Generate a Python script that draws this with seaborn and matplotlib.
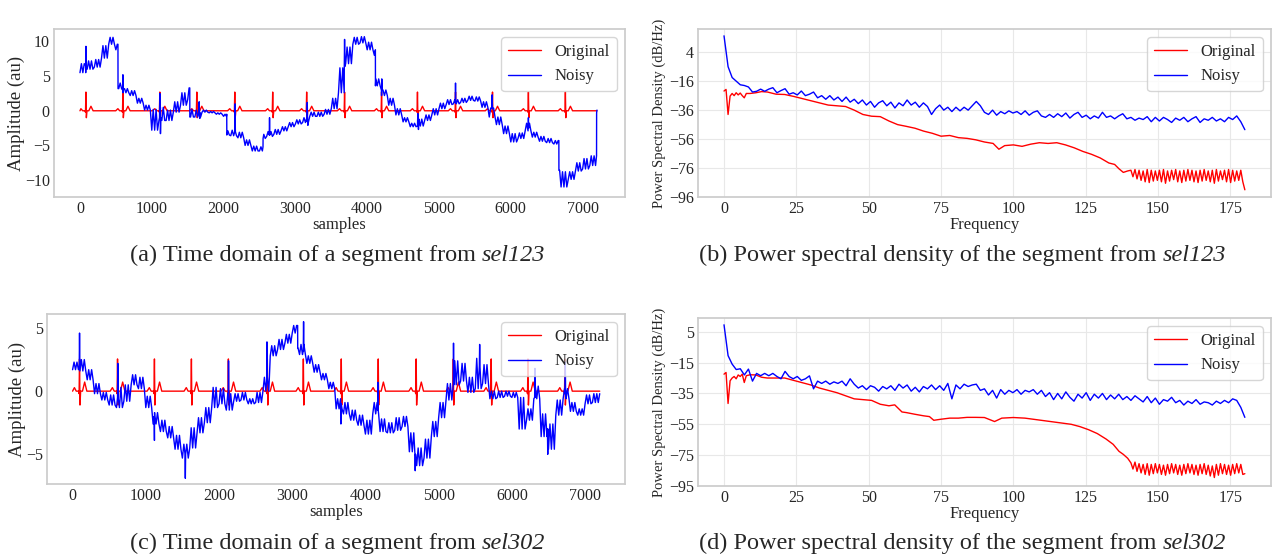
import numpy as np
import pandas as pd
import seaborn as sns
import matplotlib.pyplot as plt

# ---------------- time domain data ----------------
# noisy trace: lower / upper edge of the noise band in 100-sample bins
noisy_a_lo = [5.5, 6.0, 6.3, 7.6, 9.6, 3.2, 2.6, 2.2, 1.1, 0.1,
              -2.8, -1.4, -1.4, -0.2, 0.8, -0.9, -0.9, -0.2, -0.3, -0.5,
              -3.5, -3.6, -3.9, -5.0, -5.8, -4.0, -3.7, -3.4, -2.9, -2.3,
              -1.9, -1.7, -0.8, -0.8, -0.5, 0.3, 2.6, 6.8, 9.6, 9.8,
              8.8, 3.6, 2.2, 0.8, -0.6, -1.6, -2.3, -2.2, -1.4, -0.6,
              0.3, 0.9, 1.0, 1.2, 1.5, 1.4, 0.5, -0.9, -2.0, -3.3,
              -4.5, -4.0, -2.9, -3.8, -4.4, -4.6, -8.6, -11.0, -9.9, -8.7,
              -8.4, -0.3]
noisy_a_hi = [6.8, 7.2, 7.4, 9.4, 10.6, 4.0, 3.2, 2.9, 1.8, 0.8,
              0.2, 0.5, 0.1, 1.3, 2.6, 0.2, 0.1, 0.1, -0.1, -0.3,
              -2.9, -2.8, -3.1, -4.2, -5.1, -3.4, -3.0, -2.7, -2.3, -1.7,
              -1.3, -1.0, -0.2, -0.2, 0.2, 1.8, 6.2, 9.2, 10.6, 10.7,
              9.9, 4.6, 3.0, 1.8, 0.3, -1.0, -1.8, -1.2, -0.6, 0.3,
              1.1, 1.6, 1.6, 1.8, 2.1, 2.0, 1.3, 0.4, -0.9, -2.2,
              -3.3, -3.2, -1.8, -3.1, -3.7, -4.0, -7.6, -8.8, -8.8, -7.5,
              -6.9, 0.1]
# sudden jumps: (sample, band lo, band hi before the jump inside that bin)
steps_a_x = [530, 1530, 2045, 2550, 4115, 6670, 7195]
steps_a_lo = [8.8, 1.6, -0.8, -5.8, 8.0, -4.8, -7.9]
steps_a_hi = [9.6, 3.3, -0.5, -5.2, 8.8, -4.3, -6.5]
# spikes on the noisy trace
spikes_a_x = [83, 598, 1112, 1121, 1660, 1669, 2160, 2640, 3165, 3174, 3685, 4203, 4705, 4714, 5230, 5740, 6245]
spikes_a_base = [6.5, 3.0, -1.0, -1.0, -0.3, -0.3, -3.0, -3.5, -1.5, -1.5, 6.4, 3.0, -2.0, -2.0, 1.2, 0.3, -2.5]
spikes_a_peak = [9.3, 5.2, 2.5, -3.3, 1.3, -1.1, 1.0, -1.0, 1.2, -2.1, 10.3, 4.6, -0.4, -2.7, 4.0, 2.3, -1.0]

noisy_c_lo = [1.7, 1.6, 0.9, -0.2, -0.7, -1.1, -1.3, -0.8, 0.5, 0.2,
              -1.3, -2.6, -3.2, -3.7, -4.6, -5.3, -4.5, -3.3, -2.5, -1.3,
              -1.0, -1.5, -0.8, -0.7, -1.0, -0.9, 0.0, 2.8, 3.3, 3.8,
              3.4, 2.9, 2.2, 1.5, 0.9, 0.2, -1.4, -1.8, -2.3, -2.7,
              -3.4, -1.8, -3.2, -3.3, -3.1, -2.8, -4.8, -5.9, -5.3, -3.6,
              -2.1, -0.7, 0.5, 0.8, -0.1, 0.2, 0.6, -0.6, -0.5, -0.4,
              -0.5, -3.0, -2.3, -0.6, -3.6, -4.6, -1.9, -0.6, -1.6, -1.9,
              -1.0, -0.9]
noisy_c_hi = [2.3, 2.5, 1.7, 0.6, -0.1, -0.3, 0.3, 0.5, 1.3, 1.1,
              -0.4, -1.7, -2.3, -2.8, -3.5, -4.2, -2.9, -2.1, -1.3, 0.3,
              0.2, -0.2, -0.2, -0.1, -0.6, -0.1, 1.1, 3.6, 4.1, 4.5,
              4.0, 3.7, 2.8, 2.1, 1.4, 0.7, -0.6, -0.9, -1.5, -1.9,
              -2.3, -0.9, -2.2, -2.5, -2.1, -2.0, -3.3, -4.5, -3.8, -2.4,
              -0.9, 0.6, 2.4, 2.2, 1.1, 2.6, 2.1, 0.0, 0.0, 0.0,
              -0.1, -0.5, -1.4, 0.4, -1.8, -2.6, -0.7, 0.2, -0.9, -1.4,
              -0.3, -0.2]
steps_c_x = [3075]
steps_c_lo = [4.6]
steps_c_hi = [5.2]
spikes_c_x = [95, 618, 1118, 1540, 2130, 2655, 3155, 3665, 4170, 4680, 5203, 5560, 6315, 6490, 6730]
spikes_c_base = [2.0, -0.5, -2.0, -5.0, -0.6, 0.8, 3.2, -1.0, -1.5, -5.0, 0.5, 2.0, -0.5, -3.0, -0.2]
spikes_c_peak = [4.6, 2.2, -3.9, -6.9, 2.4, 3.9, 5.5, -2.6, 0.7, -6.3, 3.8, 3.7, 1.8, -5.0, 2.3]

# clean ECG: beat positions and one beat shape
beats_a = [83, 598, 1112, 1627, 2156, 2684, 3157, 3685, 4200, 4700, 5230, 5745, 6245, 6760]
beats_c = [95, 614, 1118, 1623, 2128, 2660, 3152, 3670, 4175, 4693, 5200, 5718, 6220, 6725]
beat_offsets = [-100, -70, -45, -15, -6, 0, 6, 15, 40, 70, 100]
beat_a = [0, 0.3, 0, 0, -0.2, 2.7, -1.0, 0, 0, 0.65, 0]
beat_c = [0, 0.28, 0, 0, -0.2, 2.55, -1.1, 0, 0, 0.72, 0]

# ---------------- PSD data ----------------
psd_step = 1.40625
noisy_psd_b = [15.3, -6, -13.5, -16, -18.5, -19, -20, -23.5, -23, -21.5, -23, -21.5, -20.5, -24, -22.5, -21.2,
               -25, -24, -25.5, -22.8, -26, -25, -23.5, -27.5, -26, -28.5, -26, -29, -27, -30, -27, -30.5,
               -28.5, -31.5, -29, -32.5, -30, -34, -31, -29.5, -33, -30.5, -34.5, -31, -33, -29, -32.5, -30.5,
               -34, -31, -33.5, -39, -35, -32.5, -36, -34, -37, -34, -36.5, -34, -36, -33, -30, -33,
               -37.5, -39, -36, -39.5, -37, -38.5, -36.5, -38, -37, -39, -36.5, -39.5, -37.5, -36.5, -40, -41,
               -39, -41, -38.5, -40.5, -38, -41.5, -39, -37.5, -41, -39.5, -42, -40, -41.5, -37.5, -41, -40,
               -42, -40, -38.5, -42, -41, -43, -41.5, -42.5, -40.5, -44, -41, -43.5, -41, -42.5, -44.5, -41.5,
               -43, -41, -44, -42, -40.5, -44.5, -42, -43, -41, -43.5, -42, -44, -41, -42.5, -40, -44, -49.5]
noisy_psd_d = [9.5, -10.5, -16, -19.5, -19, -23, -19.2, -27, -22, -23.5, -22, -23.5, -22, -24, -25.5, -20.7,
               -24, -25.5, -24, -26.5, -25.5, -23.6, -32, -27, -28.5, -27, -29, -27.5, -28.5, -27, -30, -25.5,
               -29, -31.5, -30, -32.5, -30, -31, -33.5, -30.5, -32, -30, -33, -29, -31.5, -29.5, -33.5, -31,
               -34, -30.5, -32, -29.5, -32.5, -30, -33, -28.5, -38.5, -29.5, -32, -29, -30.5, -29.5, -29, -33,
               -32, -36, -33, -38, -32.5, -35.5, -33, -34.5, -32.5, -35.5, -33, -34, -32.5, -35.5, -33, -37,
               -34.5, -39, -35, -38.5, -34, -37.5, -40, -35.5, -38, -34.5, -39.5, -35.5, -38, -35, -39, -36,
               -38.5, -35.5, -39, -37, -39.5, -36.5, -38.5, -40.5, -37, -41, -38, -42, -39, -40, -37.5, -41,
               -39.5, -42.5, -40, -41.5, -39, -42, -40.5, -41, -42.5, -40, -41.5, -39.5, -41, -38.5, -39.5, -44, -50.5]

orig_freq_b = [0, 0.7, 1.4, 2.1, 2.8, 3.5, 4.2, 4.9, 5.6, 6.3,
               7.0, 7.7, 9, 11, 13, 15, 18, 21, 24, 27,
               30, 33, 36, 39, 42, 45, 48, 51, 54, 57,
               60, 63, 66, 69, 72, 75, 78, 81, 84, 87,
               90, 93, 95, 97, 100, 103, 106, 109, 112, 115,
               118, 121, 124, 127, 130, 133, 135, 136.5, 138, 139.5]
orig_psd_b = [-22.8, -21.7, -39, -26.3, -24.5, -26, -24, -25.5, -24.2, -26,
              -27.5, -24.5, -24.5, -24, -23.2, -23.5, -25, -25.2, -26.5, -28,
              -29.5, -31, -32.5, -33, -33.5, -36, -39, -40.2, -40.5, -43.5,
              -46, -47.2, -48.5, -50.5, -52, -54, -53.5, -55, -55.5, -56.5,
              -58, -59, -63, -60.5, -60, -61, -59.5, -58.5, -59, -58.5,
              -60, -62, -64.5, -66.5, -69, -72.5, -73.5, -76.5, -79, -78]
orig_freq_d = [0, 0.7, 1.4, 2.1, 2.8, 3.5, 4.2, 4.9, 5.6, 6.3,
               7.0, 7.7, 9, 11, 13, 15, 18, 21, 24, 27,
               30, 33, 36, 39, 42, 45, 48, 51, 54, 57,
               59, 61.5, 63, 66, 69, 71, 72.5, 75, 78, 81,
               84, 87, 90, 93.5, 96, 100, 104, 108, 112, 116,
               120, 123, 126, 129, 132, 134.5, 136.5, 138, 139.5]
orig_psd_d = [-22.5, -21.4, -41.5, -26.8, -25, -24, -25.5, -23, -24, -22.5,
              -27.9, -23.5, -22.9, -23, -24.5, -25, -25, -25, -26.5, -28,
              -29.5, -31.5, -33, -34.5, -36.5, -38.5, -39, -39.5, -42, -43,
              -42.4, -47, -47.4, -48.5, -49.5, -50, -52.4, -51.7, -51, -51,
              -50.5, -50.5, -50.6, -53.2, -51, -50.6, -51, -52, -53, -54,
              -55, -56.5, -58.5, -61, -64.5, -68, -72.5, -74.5, -77]
# stop-band ripple of the clean PSD (alternating bins from 140.6 Hz)
ripple_start, ripple_step = 140.625, 0.703125
ripple_b_hi = [-77.5, -77, -77.5, -78, -77, -77.5, -78, -77.5, -77, -78, -77.5, -77, -78, -77.5,
               -77, -77.5, -78, -77.5, -77, -78, -77.5, -77, -78, -77.5, -77, -77.5, -78, -77.5]
ripple_b_lo = [-82, -83.5, -84.5, -85.5, -86, -85, -84.5, -85.5, -86.5, -85, -84, -85.5, -86, -85,
               -84.5, -85.5, -86, -85, -84.5, -85.5, -86.5, -85, -84, -85.5, -86, -85, -84.5, -85.5]
ripple_b_end = -91
ripple_d_hi = [-80, -79.5, -80.5, -81, -80.5, -81, -80.5, -81, -81.5, -81, -80.5, -81, -81.5, -81,
               -80.5, -81, -81.5, -81, -80.5, -81.5, -82, -81, -80.5, -81, -81.5, -81, -80.5, -81]
ripple_d_lo = [-84, -85.5, -86.5, -87.5, -88, -87, -86.5, -87.5, -88, -87, -86.5, -87.5, -88, -87,
               -86.5, -87.5, -88, -87, -87.5, -88.5, -89.5, -88, -87, -87.5, -88, -87, -86.5, -87.5]
ripple_d_end = -87

captions = [("(a) Time domain of a segment from", "sel123"),
            ("(b) Power spectral density of the segment from", "sel123"),
            ("(c) Time domain of a segment from", "sel302"),
            ("(d) Power spectral density of the segment from", "sel302")]

palette = {'Original': 'red', 'Noisy': 'blue'}
order = ['Original', 'Noisy']


def time_frame(lo, hi, st_x, st_lo, st_hi, sp_x, sp_base, sp_peak, beats, beat_vals):
    rows = []
    steps = dict(zip([x // 100 for x in st_x], zip(st_x, st_lo, st_hi)))
    for k, (a, b) in enumerate(zip(lo, hi)):
        # the noise band: the trace swings between the band edges
        for j, off in enumerate(range(0, 100, 20)):
            x = k * 100 + off
            lo_v, hi_v = a, b
            if k in steps and x < steps[k][0]:
                lo_v, hi_v = steps[k][1], steps[k][2]
            rows.append((x, lo_v if j % 2 == 0 else hi_v, 'Noisy'))
        if k in steps:
            sx, slo, shi = steps[k]
            rows += [(sx - 1, shi, 'Noisy'), (sx, a, 'Noisy')]
    rows.append((7200, hi[-1], 'Noisy'))
    for x, b, p in zip(sp_x, sp_base, sp_peak):
        rows += [(x - 4, b, 'Noisy'), (x, p, 'Noisy'), (x + 4, b, 'Noisy')]
    rows += [(0, 0.0, 'Original'), (7200, 0.0, 'Original')]
    for r in beats:
        for off, v in zip(beat_offsets, beat_vals):
            if 0 < r + off < 7200:
                rows.append((r + off, v, 'Original'))
    df = pd.DataFrame(rows, columns=['sample', 'amplitude', 'signal'])
    return df.drop_duplicates(subset=['sample', 'signal'], keep='last')


def psd_frame(noisy, of, ov, r_hi, r_lo, r_end):
    rows = [(k * psd_step, v, 'Noisy') for k, v in enumerate(noisy)]
    rows += [(f, v, 'Original') for f, v in zip(of, ov)]
    ripple = [v for pair in zip(r_hi, r_lo) for v in pair] + [r_end]
    rows += [(ripple_start + j * ripple_step, v, 'Original') for j, v in enumerate(ripple)]
    return pd.DataFrame(rows, columns=['freq', 'psd', 'signal'])


sns.set_theme(style='whitegrid')
plt.rcParams['font.family'] = ['Liberation Serif', 'DejaVu Serif']
plt.rcParams['axes.edgecolor'] = '#cccccc'

fig = plt.figure(figsize=(12.76, 5.55), dpi=100)
ax_a = fig.add_axes([0.0423, 0.645, 0.4475, 0.3027])
ax_b = fig.add_axes([0.547, 0.645, 0.449, 0.3027])
ax_c = fig.add_axes([0.0368, 0.128, 0.453, 0.306])
ax_d = fig.add_axes([0.547, 0.1243, 0.449, 0.3027])

df_a = time_frame(noisy_a_lo, noisy_a_hi, steps_a_x, steps_a_lo, steps_a_hi,
                  spikes_a_x, spikes_a_base, spikes_a_peak, beats_a, beat_a)
df_c = time_frame(noisy_c_lo, noisy_c_hi, steps_c_x, steps_c_lo, steps_c_hi,
                  spikes_c_x, spikes_c_base, spikes_c_peak, beats_c, beat_c)
df_b = psd_frame(noisy_psd_b, orig_freq_b, orig_psd_b, ripple_b_hi, ripple_b_lo, ripple_b_end)
df_d = psd_frame(noisy_psd_d, orig_freq_d, orig_psd_d, ripple_d_hi, ripple_d_lo, ripple_d_end)

fs = 11.5

for ax, df, xlim, ylim in [(ax_a, df_a, (-362, 7590), (-12.45, 11.8)),
                           (ax_c, df_c, (-350, 7545), (-7.35, 6.1))]:
    sns.lineplot(data=df, x='sample', y='amplitude', hue='signal', hue_order=order,
                 palette=palette, estimator=None, sort=True, lw=1.0, ax=ax)
    ax.grid(False)
    ax.set_xlim(*xlim)
    ax.set_ylim(*ylim)
    ax.set_xticks(range(0, 7001, 1000))
    ax.set_xlabel('samples', fontsize=12, labelpad=0)
    ax.set_ylabel('Amplitude (au)', fontsize=13.5, labelpad=0)

for ax, df, ylim, ticks in [(ax_b, df_b, (-96, 20), range(-96, 5, 20)),
                            (ax_d, df_d, (-95, 13.9), range(-95, 6, 20))]:
    sns.lineplot(data=df, x='freq', y='psd', hue='signal', hue_order=order,
                 palette=palette, estimator=None, sort=True, lw=1.0, ax=ax)
    ax.grid(True, color='#e8e8e8', lw=0.8)
    ax.set_xlim(-9, 189)
    ax.set_ylim(*ylim)
    ax.set_xticks(range(0, 176, 25))
    ax.set_yticks(list(ticks))
    ax.set_xlabel('Frequency', fontsize=12, labelpad=0)
    ax.set_ylabel('Power Spectral Density (dB/Hz)', fontsize=10.5, labelpad=2)

for ax in [ax_a, ax_b, ax_c, ax_d]:
    ax.tick_params(labelsize=fs, length=0, pad=3)
    for s in ax.spines.values():
        s.set_color('#cccccc')
    sns.move_legend(ax, 'upper right', title=None, fontsize=12, frameon=True)

# captions: upright text followed by the italic record name, centred as one line
renderer = fig.canvas.get_renderer()
cap_fs = 17.5
space = 0.25 * cap_fs * fig.dpi / 72 / fig.bbox.width
for (plain, name), (cx, cy) in zip(captions, [(0.2645, 0.539), (0.754, 0.539),
                                              (0.2645, 0.0216), (0.754, 0.0216)]):
    t1 = fig.text(0, cy, plain, fontsize=cap_fs, va='center')
    t2 = fig.text(0, cy, name, fontsize=cap_fs, va='center', style='italic')
    w1 = t1.get_window_extent(renderer).width / fig.bbox.width
    w2 = t2.get_window_extent(renderer).width / fig.bbox.width
    x0 = cx - (w1 + space + w2) / 2
    t1.set_x(x0)
    t2.set_x(x0 + w1 + space)

fig.savefig('out.png', dpi=100)
